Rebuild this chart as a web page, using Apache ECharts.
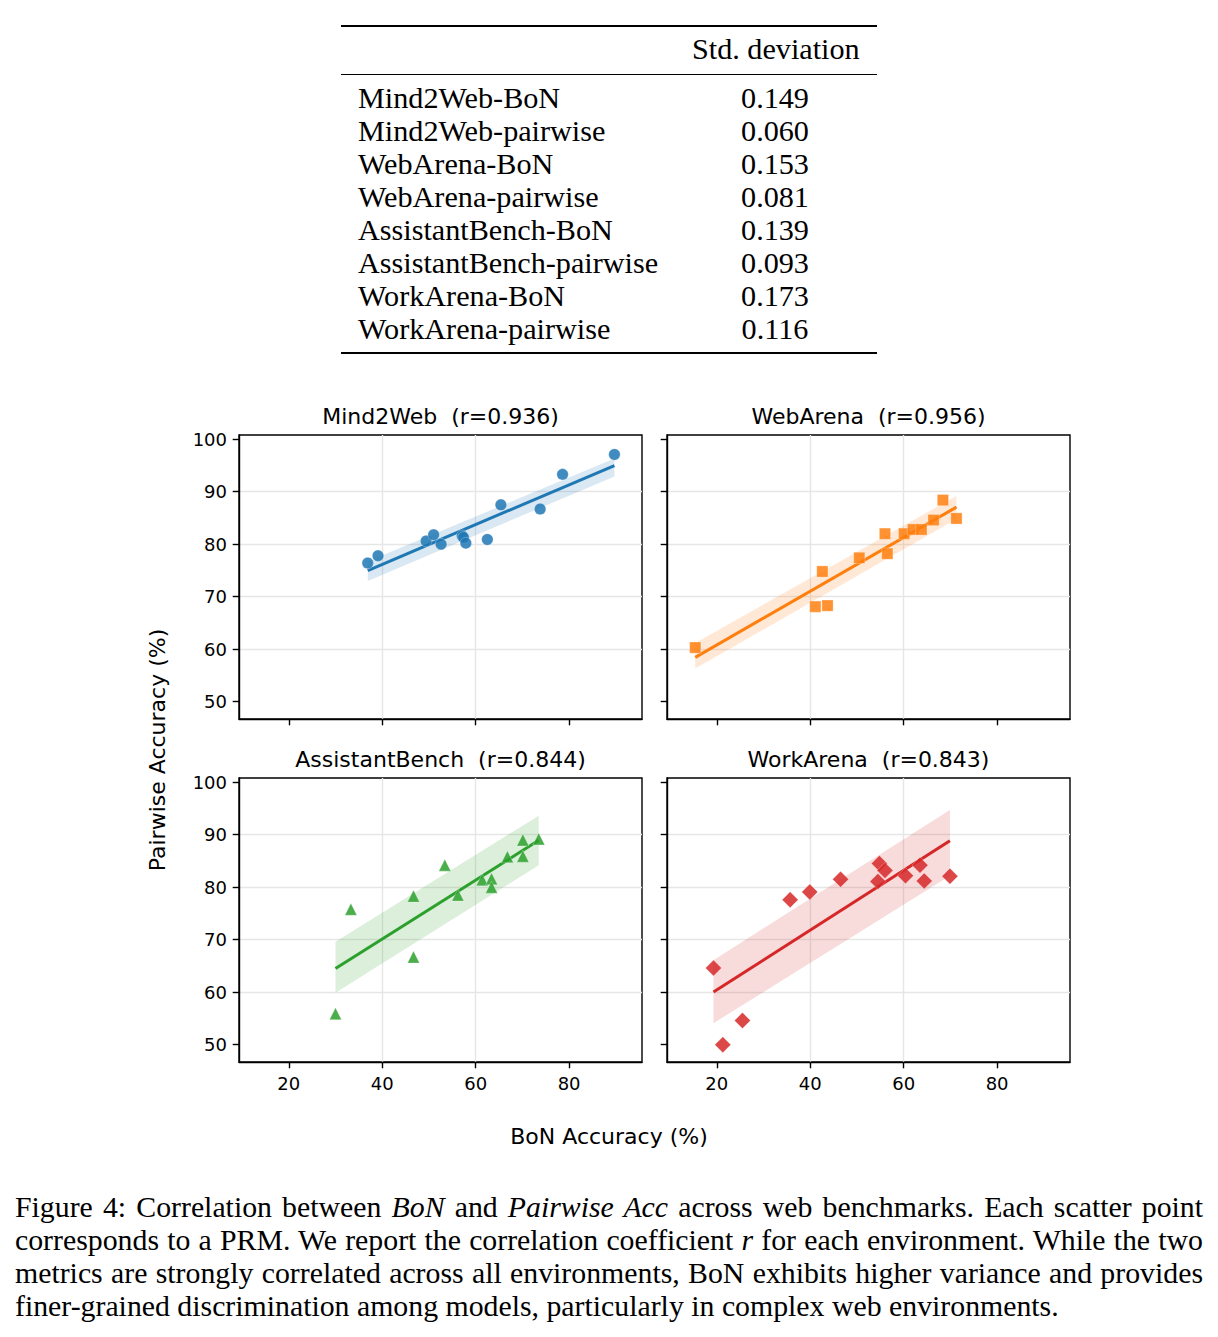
<!DOCTYPE html>
<html>
<head>
<meta charset="utf-8">
<script src="https://cdn.jsdelivr.net/npm/echarts@6/dist/echarts.min.js"></script>
<style>
html,body{margin:0;padding:0;background:#fff;width:1218px;height:1337px;overflow:hidden;}
#chart{position:absolute;left:0;top:0;width:1218px;height:1337px;}
.t{position:absolute;font-family:'Liberation Serif','Times New Roman',serif;font-size:30.2px;line-height:33px;color:#000;white-space:nowrap;}
.rule{position:absolute;left:341px;width:536px;background:#000;}
.cap{position:absolute;left:15px;width:1188px;font-family:'Liberation Serif','Times New Roman',serif;font-size:29.8px;line-height:33px;color:#000;text-align:justify;text-align-last:justify;}
.cap.last{text-align-last:left;}
</style>
</head>
<body>
<div id="chart"></div>
<div id="table"></div>
<div id="caption"></div>
<script>
// ---------- table data ----------
const tableHeader = 'Std. deviation';
const tableRows = ['Mind2Web-BoN','Mind2Web-pairwise','WebArena-BoN','WebArena-pairwise','AssistantBench-BoN','AssistantBench-pairwise','WorkArena-BoN','WorkArena-pairwise'];
const tableStd = ['0.149','0.060','0.153','0.081','0.139','0.093','0.173','0.116'];

// ---------- chart data ----------
const panelTitles = ['Mind2Web  (r=0.936)','WebArena  (r=0.956)','AssistantBench  (r=0.844)','WorkArena  (r=0.843)'];
const xTicks = [20,40,60,80];
const yTicks = [50,60,70,80,90,100];

const m2wBoN  = [36.9,39.1,49.4,51.0,52.6,57.1,57.4,57.9,62.5,65.4,73.8,78.6,89.7];
const m2wPair = [76.4,77.8,80.6,81.8,80.0,81.6,81.3,80.2,80.9,87.5,86.7,93.3,97.1];
const m2wBandLo = [73.0,92.9];
const m2wBandHi = [76.7,96.3];

const webBoN  = [15.4,41.1,43.7,42.6,50.5,56.0,56.5,60.1,62.0,63.8,66.4,68.4,71.3];
const webPair = [60.3,68.1,68.3,74.8,77.4,82.0,78.2,82.0,82.8,82.8,84.6,88.4,84.9];
const webBandLo = [56.3,84.8];
const webBandHi = [61.2,89.2];

const abBoN  = [30.0,33.3,46.7,46.7,53.4,56.2,61.4,63.4,63.4,66.8,70.1,70.1,73.5];
const abPair = [55.9,75.8,78.3,66.7,84.2,78.5,81.4,81.6,80.0,85.8,89.0,85.9,89.2];
const abBandLo = [59.9,84.2];
const abBandHi = [69.6,93.6];

const waBoN  = [19.3,21.3,25.5,35.7,39.9,46.5,54.5,54.8,56.0,60.4,63.5,64.4,69.9];
const waPair = [64.6,50.0,54.6,77.6,79.1,81.5,81.1,84.5,83.2,82.2,84.2,81.2,82.1];
const waBandLo = [54.1,82.2];
const waBandHi = [66.1,94.7];

const captionLines = [
  'Figure 4: Correlation between <i>BoN</i> and <i>Pairwise Acc</i> across web benchmarks. Each scatter point',
  'corresponds to a PRM. We report the correlation coefficient <i>r</i> for each environment. While the two',
  'metrics are strongly correlated across all environments, BoN exhibits higher variance and provides',
  'finer-grained discrimination among models, particularly in complex web environments.'
];

// ---------- table / caption (HTML text) ----------
(function(){
  const t = document.getElementById('table');
  let h = '';
  h += '<div class="rule" style="top:25px;height:2px"></div>';
  h += '<div class="t" style="left:692px;top:33px">'+tableHeader+'</div>';
  h += '<div class="rule" style="top:74px;height:1.3px"></div>';
  tableRows.forEach((r,i)=>{
    const top = 82 + i*33;
    h += '<div class="t" style="left:358px;top:'+top+'px">'+r+'</div>';
    h += '<div class="t" style="left:700px;width:150px;text-align:center;top:'+top+'px">'+tableStd[i]+'</div>';
  });
  h += '<div class="rule" style="top:352px;height:2px"></div>';
  t.innerHTML = h;
  const c = document.getElementById('caption');
  let ch = '';
  captionLines.forEach((l,i)=>{
    ch += '<div class="cap'+(i===captionLines.length-1?' last':'')+'" style="top:'+(1190+i*33)+'px">'+l+'</div>';
  });
  c.innerHTML = ch;
})();

// ---------- chart ----------
const panels = [
  {x:m2wBoN, y:m2wPair, lo:m2wBandLo, hi:m2wBandHi, color:'#1f77b4', symbol:'circle', size:11.5},
  {x:webBoN, y:webPair, lo:webBandLo, hi:webBandHi, color:'#ff7f0e', symbol:'rect', size:11.2},
  {x:abBoN,  y:abPair,  lo:abBandLo,  hi:abBandHi,  color:'#2ca02c', symbol:'triangle', size:12},
  {x:waBoN,  y:waPair,  lo:waBandLo,  hi:waBandHi,  color:'#d62728', symbol:'diamond', size:16}
];
const gridPos = [
  {left:239, top:435, width:403, height:284},
  {left:667, top:435, width:403, height:284},
  {left:239, top:778, width:403, height:284},
  {left:667, top:778, width:403, height:284}
];
const X_MIN = 9.35, X_MAX = 95.6, Y_MIN = 46.7, Y_MAX = 100.8;
const FONT = 'DejaVu Sans';

function fit(xs, ys){
  const n = xs.length;
  const mx = xs.reduce((a,b)=>a+b,0)/n, my = ys.reduce((a,b)=>a+b,0)/n;
  let sxy=0, sxx=0;
  for(let i=0;i<n;i++){ sxy += (xs[i]-mx)*(ys[i]-my); sxx += (xs[i]-mx)*(xs[i]-mx); }
  const b = sxy/sxx, a = my - b*mx;
  return {a,b};
}

const grid=[], xAxis=[], yAxis=[], series=[], graphic=[];
panels.forEach((p,i)=>{
  grid.push(Object.assign({show:true, borderColor:'#000', borderWidth:1.4, backgroundColor:'transparent'}, gridPos[i]));
  xAxis.push({
    type:'value', gridIndex:i, min:X_MIN, max:X_MAX, minInterval:20, maxInterval:20,
    axisLine:{show:true, onZero:false, lineStyle:{color:'#000', width:1.4}},
    axisTick:{show:true, customValues:xTicks, length:6.3, lineStyle:{color:'#000', width:1.4}},
    axisLabel:{show:i>=2, customValues:xTicks, margin:12, fontSize:18, color:'#000', fontFamily:FONT},
    splitLine:{show:true, showMinLine:false, showMaxLine:false, lineStyle:{color:'#e6e6e6', width:1.4}}
  });
  yAxis.push({
    type:'value', gridIndex:i, min:Y_MIN, max:Y_MAX, minInterval:10, maxInterval:10,
    axisLine:{show:true, onZero:false, lineStyle:{color:'#000', width:1.4}},
    axisTick:{show:true, customValues:yTicks, length:6.3, lineStyle:{color:'#000', width:1.4}},
    axisLabel:{show:i%2===0, customValues:yTicks, margin:12, fontSize:18, color:'#000', fontFamily:FONT},
    splitLine:{show:true, showMinLine:false, showMaxLine:false, lineStyle:{color:'#e6e6e6', width:1.4}}
  });
  const xmin = Math.min(...p.x), xmax = Math.max(...p.x);
  const f = fit(p.x, p.y);
  // confidence band
  series.push({
    type:'custom', xAxisIndex:i, yAxisIndex:i, silent:true, z:2,
    data:[[xmin, p.lo[0]]],
    renderItem:(params, api)=>{
      const pts = [api.coord([xmin,p.lo[0]]), api.coord([xmax,p.lo[1]]), api.coord([xmax,p.hi[1]]), api.coord([xmin,p.hi[0]])];
      return {type:'polygon', shape:{points:pts}, style:{fill:p.color, opacity:0.17}};
    }
  });
  // regression line
  series.push({
    type:'line', xAxisIndex:i, yAxisIndex:i, z:3, showSymbol:false, silent:true,
    data:[[xmin, f.a+f.b*xmin],[xmax, f.a+f.b*xmax]],
    lineStyle:{color:p.color, width:3}
  });
  // scatter points
  series.push({
    type:'scatter', xAxisIndex:i, yAxisIndex:i, z:4, silent:true,
    symbol:p.symbol, symbolSize:p.size,
    data:p.x.map((v,k)=>[v,p.y[k]]),
    itemStyle:{color:p.color, opacity:0.85, borderColor:'rgba(255,255,255,0.55)', borderWidth:0.6}
  });
  // panel title
  graphic.push({
    type:'text', x:gridPos[i].left + gridPos[i].width/2, y:gridPos[i].top - 19, silent:true,
    style:{text:panelTitles[i], fontSize:22, fontFamily:FONT, fill:'#000', align:'center', verticalAlign:'middle'}
  });
});
graphic.push({
  type:'text', x:609, y:1136, silent:true,
  style:{text:'BoN Accuracy (%)', fontSize:22, fontFamily:FONT, fill:'#000', align:'center', verticalAlign:'middle'}
});
graphic.push({
  type:'text', x:157, y:750, rotation:Math.PI/2, silent:true,
  style:{text:'Pairwise Accuracy (%)', fontSize:22, fontFamily:FONT, fill:'#000', align:'center', verticalAlign:'middle'}
});

const chart = echarts.init(document.getElementById('chart'), null, {renderer:'svg', width:1218, height:1337});
chart.setOption({
  animation:false,
  backgroundColor:'#fff',
  textStyle:{fontFamily:FONT},
  grid, xAxis, yAxis, series, graphic
});
</script>
</body>
</html>
